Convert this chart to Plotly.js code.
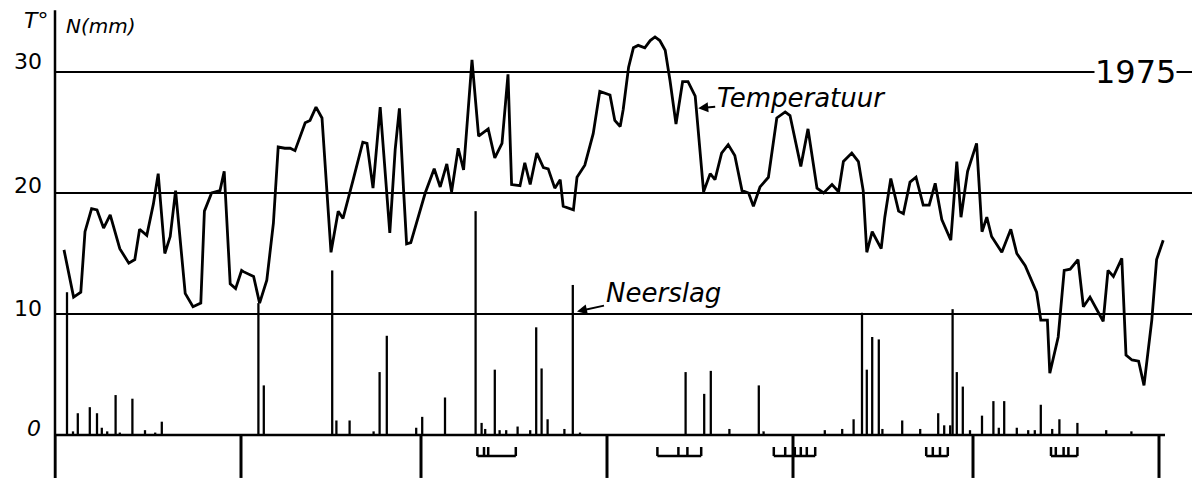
<!DOCTYPE html>
<html>
<head>
<meta charset="utf-8">
<script src="https://cdn.plot.ly/plotly-3.0.1.min.js"></script>
<style>html,body{margin:0;padding:0;background:#fff}#chart{width:1192px;height:483px}</style>
</head>
<body>
<div id="chart"></div>
<script>
// Day number from 1 May 1975 and daily temperature (°C)
const tempDay = [1.5,3.1,4.3,5.0,6.1,7.0,8.1,9.2,10.8,12.3,
13.3,14.1,15.3,16.4,17.2,18.3,19.2,20.1,21.7,23.0,
24.3,24.9,26.1,27.5,28.2,29.2,30.1,31.1,31.4,33.1,
34.1,35.3,36.4,37.2,38.3,39.2,40.0,41.7,42.5,43.5,
44.5,46.0,47.2,48.0,49.7,51.3,52.0,53.0,54.2,55.8,
56.7,57.4,58.1,58.6,59.3,61.7,63.2,64.2,65.3,66.1,
67.2,68.1,69.5,70.6,72.2,73.3,74.5,75.5,76.1,77.5,
78.3,79.2,80.3,81.4,82.2,83.3,84.2,84.7,86.4,87.0,
88.3,89.7,90.8,92.0,92.5,93.3,94.2,94.7,95.6,96.4,
97.2,98.3,99.2,100.0,100.8,101.7,102.5,103.5,104.6,105.5,
106.7,108.1,109.2,110.0,111.1,112.2,113.3,114.5,115.6,116.4,
117.5,118.9,120.3,121.7,122.5,124.3,125.5,127.0,128.1,129.5,
130.6,131.4,132.8,133.9,134.7,135.3,136.2,137.7,138.3,139.3,
140.6,141.4,142.5,143.5,144.7,145.7,146.7,147.8,149.3,150.3,
151.0,152.1,153.6,154.5,155.3,156.1,157.8,159.3,160.3,161.7,
162.8,163.6,164.3,165.4,165.8,167.2,168.2,169.2,170.5,171.4,
172.5,174.7,175.5,176.4,177.8,178.5,179.5,180.6,181.5,182.8,
183.6,184.7];
const tempVal = [15.3,11.4,11.8,16.8,18.7,18.6,17.1,18.2,15.4,14.2,
14.5,17.0,16.5,19.1,21.6,15.0,16.4,20.2,11.7,10.6,
10.9,18.5,20.0,20.2,21.8,12.5,12.1,13.6,13.5,13.1,
10.9,12.8,17.5,23.8,23.7,23.7,23.5,25.8,26.0,27.1,
26.2,15.1,18.5,17.9,21.1,24.2,24.1,20.4,27.1,16.7,
23.6,27.0,20.2,15.8,15.9,20.0,22.0,20.5,22.4,20.1,
23.7,21.9,31.0,24.7,25.3,22.9,24.1,29.8,20.7,20.6,
22.5,20.7,23.3,22.1,22.0,20.4,21.1,18.9,18.6,21.3,
22.3,24.9,28.4,28.2,28.1,26.0,25.5,26.9,30.4,32.0,
32.2,32.0,32.6,32.9,32.6,31.8,29.3,25.7,29.2,29.2,
28.0,20.1,21.6,21.1,23.3,24.0,23.1,20.2,20.0,18.9,
20.5,21.3,26.2,26.7,26.4,22.2,25.3,20.4,20.0,20.7,
20.1,22.6,23.3,22.6,20.2,15.1,16.8,15.4,18.0,21.2,
18.5,18.3,20.9,21.3,19.0,19.0,20.8,17.8,16.1,22.6,
18.0,21.8,24.1,16.8,18.0,16.4,15.1,17.0,15.0,14.0,
12.8,11.8,9.5,9.5,5.1,8.1,13.6,13.7,14.5,10.6,
11.4,9.4,13.6,13.1,14.6,6.6,6.2,6.1,4.1,9.5,
14.5,16.1];

// Precipitation (Neerslag, mm)
const rainDay = [2.0,3.0,3.8,5.8,7.0,7.8,8.7,10.1,10.8,12.9,
15.0,16.7,17.8,33.9,34.8,46.2,46.9,49.1,53.1,54.1,
55.3,60.2,61.2,65.0,70.1,71.1,71.7,73.3,74.1,75.2,
77.1,79.2,80.2,81.1,82.1,84.9,86.3,87.5,105.1,108.2,
109.3,112.4,117.3,118.1,128.3,131.2,133.1,134.5,135.3,136.2,
137.3,137.9,141.2,144.2,147.2,148.2,149.2,149.6,150.3,151.3,
152.5,154.5,156.4,157.3,158.2,160.3,162.2,163.3,164.3,166.2,
167.4,170.4,175.2,179.4];
const rainMm = [11.8,0.3,1.8,2.3,1.8,0.6,0.3,3.3,0.2,3.0,
0.4,0.2,1.1,10.9,4.1,13.6,1.2,1.2,0.3,5.2,
8.2,0.6,1.5,3.1,18.5,1.0,0.5,5.4,0.4,0.4,
0.7,0.4,8.9,5.5,1.3,0.5,12.4,0.2,5.2,3.4,
5.3,0.5,4.1,0.3,0.4,0.5,1.3,10.1,5.4,8.1,
7.9,0.5,1.2,0.5,1.8,0.8,0.8,10.4,5.2,4.0,
0.4,1.6,2.8,0.6,2.8,0.6,0.4,0.4,2.5,0.5,
1.3,1.0,0.4,0.3];

// Month boundaries (May .. October) and the small marks below the axis
const monthStarts = [0, 31, 61, 92, 123, 153, 184];
const markGroups = [
  [70.4, 71.5, 72.2, 76.8],
  [100.4, 103.9, 105.4, 107.7],
  [119.8, 121.7, 123.3, 124.3, 125.3, 126.7],
  [145.2, 146.3, 147.5, 148.8],
  [166.0, 166.8, 168.1, 168.9, 170.4]
];
const gridValues = [10, 20, 30];
const yLabels = ['0', '10', '20', '30'];

// ---- layout helpers (pixel -> paper) ----
const W = 1192, H = 483, L = 55;
const PX = x => (x - L) / (W - L);
const PY = y => (H - y) / H;
const BLACK = '#000';
const FONT = 'DejaVu Sans, sans-serif';

// mark path
const markBase = -1.74, markTop = -0.99;
const mx = [], my = [];
markGroups.forEach(g => {
  mx.push(g[0], g[g.length - 1], null); my.push(markBase, markBase, null);
  g.forEach(t => { mx.push(t, t, null); my.push(markBase, markTop, null); });
});

const traces = [
  {type: 'bar', x: rainDay, y: rainMm, width: 0.38,
   marker: {color: BLACK, line: {width: 0}}, hoverinfo: 'skip', showlegend: false},
  {type: 'scatter', mode: 'lines', x: tempDay, y: tempVal,
   line: {color: BLACK, width: 2.8}, hoverinfo: 'skip', showlegend: false},
  {type: 'scatter', mode: 'lines', x: mx, y: my,
   line: {color: BLACK, width: 2.5}, hoverinfo: 'skip', showlegend: false}
];

const shapes = [];
gridValues.forEach(v => shapes.push({type: 'line', xref: 'paper', yref: 'y',
  x0: 0, x1: 1, y0: v, y1: v, line: {color: BLACK, width: 2}}));
// zero line
shapes.push({type: 'line', xref: 'x', yref: 'y', x0: 0, x1: 185, y0: 0, y1: 0,
  line: {color: BLACK, width: 2.5}});
// vertical axis line (paper ref so it is not clipped at the plot edge)
shapes.push({type: 'line', xref: 'paper', yref: 'y', x0: 0, x1: 0, y0: 35.1, y1: -3.55,
  line: {color: BLACK, width: 2.5}});
// month separators below the axis
monthStarts.forEach(m => shapes.push({type: 'line', xref: 'x', yref: 'y',
  x0: m, x1: m, y0: 0, y1: -3.55, line: {color: BLACK, width: 3}}));

const labelPix = [[34, 428], [28, 308], [28, 186], [28, 62]];
const annotations = yLabels.map((t, i) => ({
  text: t, xref: 'paper', yref: 'paper', x: PX(labelPix[i][0]), y: PY(labelPix[i][1]),
  showarrow: false, xanchor: 'center', yanchor: 'middle',
  font: {family: FONT, size: 22, color: BLACK, style: i === 0 ? 'italic' : 'normal'}
}));
annotations.push(
  {text: 'T°', xref: 'paper', yref: 'paper', x: PX(36), y: PY(21), showarrow: false,
   xanchor: 'center', yanchor: 'middle',
   font: {family: FONT, size: 22, color: BLACK, style: 'italic'}},
  {text: 'N(mm)', xref: 'paper', yref: 'paper', x: PX(101), y: PY(26), showarrow: false,
   xanchor: 'center', yanchor: 'middle',
   font: {family: FONT, size: 20, color: BLACK, style: 'italic'}},
  {text: '1975', xref: 'paper', yref: 'y', x: PX(1135), y: 30, showarrow: false,
   xanchor: 'center', yanchor: 'middle', bgcolor: '#fff', borderpad: 0,
   font: {family: FONT, size: 32, color: BLACK}},
  {text: 'Temperatuur', xref: 'x', yref: 'y', x: 107.2, y: 27.0, ax: 103, ay: -10,
   xanchor: 'center', yanchor: 'middle',
   showarrow: true, arrowhead: 2, arrowsize: 1, arrowwidth: 2, arrowcolor: BLACK, standoff: 0,
   font: {family: FONT, size: 26, color: BLACK, style: 'italic'}},
  {text: 'Neerslag', xref: 'x', yref: 'y', x: 87.0, y: 10.2, ax: 86, ay: -19,
   xanchor: 'center', yanchor: 'middle',
   showarrow: true, arrowhead: 2, arrowsize: 1, arrowwidth: 2, arrowcolor: BLACK, standoff: 0,
   font: {family: FONT, size: 26, color: BLACK, style: 'italic'}}
);

const layout = {
  width: W, height: H,
  margin: {l: L, r: 0, t: 0, b: 0, pad: 0},
  paper_bgcolor: '#fff', plot_bgcolor: '#fff',
  showlegend: false,
  xaxis: {range: [0, (W - L) / 6], showgrid: false, zeroline: false, showticklabels: false,
          ticks: '', showline: false, fixedrange: true},
  yaxis: {range: [-(H - 435) / 12.1, 435 / 12.1], showgrid: false, zeroline: false,
          showticklabels: false, ticks: '', showline: false, fixedrange: true},
  shapes: shapes,
  annotations: annotations
};

Plotly.newPlot('chart', traces, layout, {staticPlot: true, displayModeBar: false});
</script>
</body>
</html>
